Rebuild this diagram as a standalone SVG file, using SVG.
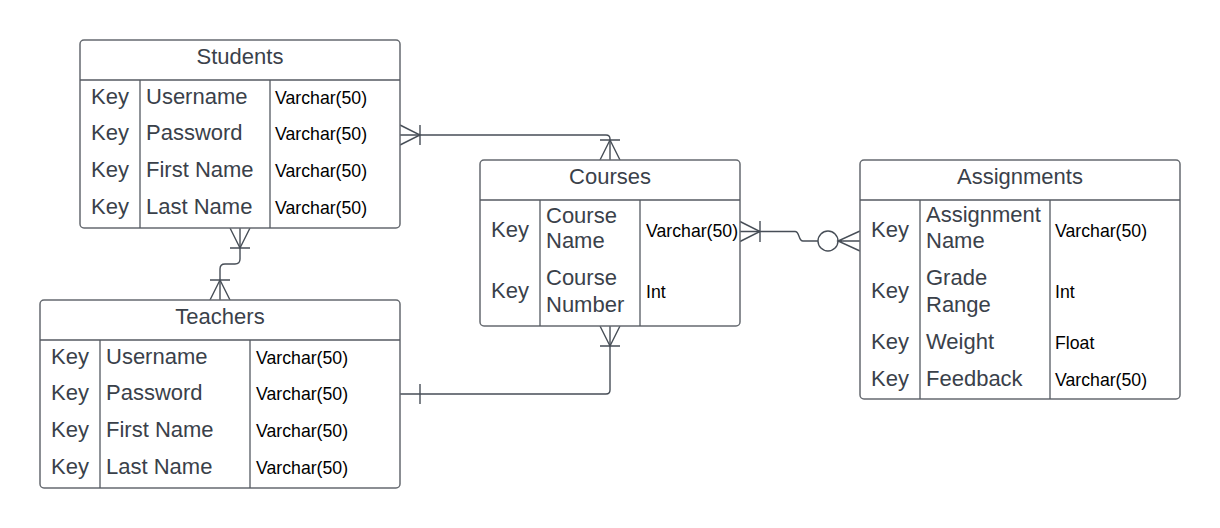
<svg xmlns="http://www.w3.org/2000/svg" width="1220" height="528" viewBox="0 0 1220 528">
<style>
.box{fill:#ffffff;stroke:#666a70;stroke-width:1.5}
.div{stroke:#555a62;stroke-width:1.3;fill:none}
.title{font-family:"Liberation Sans",Arial,sans-serif;font-size:22px;fill:#3a414a;text-anchor:middle}
.key{font-family:"Liberation Sans",Arial,sans-serif;font-size:22px;fill:#3a414a;text-anchor:middle}
.name{font-family:"Liberation Sans",Arial,sans-serif;font-size:22px;fill:#3a414a}
.type{font-family:"Liberation Sans",Arial,sans-serif;font-size:17.7px;fill:#000000}
.conn{stroke:#474e57;stroke-width:1.4;fill:none}
</style>
<rect width="1220" height="528" fill="#ffffff"/>

<g id="connectors">
  <!-- Students -> Courses -->
  <path class="conn" d="M400,135 H606 Q610,135 610,139 V160"/>
  <path class="conn" d="M400,125 L420,135 L400,145 M420,125 V145"/>
  <path class="conn" d="M600,160 L610,140 L620,160 M600,140 H620"/>
  <!-- Students -> Teachers -->
  <path class="conn" d="M240,228 V259 Q240,264 235,264 H225 Q220,264 220,269 V300"/>
  <path class="conn" d="M230,228 L240,248 L250,228 M230,248 H250"/>
  <path class="conn" d="M210,300 L220,280 L230,300 M210,280 H230"/>
  <!-- Teachers -> Courses -->
  <path class="conn" d="M400,394 H606 Q610,394 610,390 V326"/>
  <path class="conn" d="M420,384 V404"/>
  <path class="conn" d="M600,326 L610,346 L620,326 M600,346 H620"/>
  <!-- Courses -> Assignments -->
  <path class="conn" d="M740,231.5 H795 C800,231.5 798,241 803,241 H818"/>
  <path class="conn" d="M740,221.5 L760,231.5 L740,241.5 M760,221 V242"/>
  <circle class="conn" cx="828" cy="241" r="10"/>
  <path class="conn" d="M860,231 L838,241 L860,251 M838,241 H860"/>
</g>

<g id="students">
  <rect class="box" x="80" y="40" width="320" height="188" rx="4"/>
  <path class="div" d="M80,80 H400 M140,80 V228 M270,80 V228"/>
  <text class="title" x="240" y="64">Students</text>
  <text class="key" x="110" y="103.5">Key</text>
  <text class="key" x="110" y="140.2">Key</text>
  <text class="key" x="110" y="176.9">Key</text>
  <text class="key" x="110" y="213.6">Key</text>
  <text class="name" x="146" y="103.5">Username</text>
  <text class="name" x="146" y="140.2">Password</text>
  <text class="name" x="146" y="176.9">First Name</text>
  <text class="name" x="146" y="213.6">Last Name</text>
  <text class="type" x="275" y="103.5">Varchar(50)</text>
  <text class="type" x="275" y="140.2">Varchar(50)</text>
  <text class="type" x="275" y="176.9">Varchar(50)</text>
  <text class="type" x="275" y="213.6">Varchar(50)</text>
</g>

<g id="teachers">
  <rect class="box" x="40" y="300" width="360" height="188" rx="4"/>
  <path class="div" d="M40,340 H400 M100,340 V488 M250,340 V488"/>
  <text class="title" x="220" y="324">Teachers</text>
  <text class="key" x="70" y="363.5">Key</text>
  <text class="key" x="70" y="400.2">Key</text>
  <text class="key" x="70" y="436.9">Key</text>
  <text class="key" x="70" y="473.6">Key</text>
  <text class="name" x="106" y="363.5">Username</text>
  <text class="name" x="106" y="400.2">Password</text>
  <text class="name" x="106" y="436.9">First Name</text>
  <text class="name" x="106" y="473.6">Last Name</text>
  <text class="type" x="256" y="363.5">Varchar(50)</text>
  <text class="type" x="256" y="400.2">Varchar(50)</text>
  <text class="type" x="256" y="436.9">Varchar(50)</text>
  <text class="type" x="256" y="473.6">Varchar(50)</text>
</g>

<g id="courses">
  <rect class="box" x="480" y="160" width="260" height="166" rx="4"/>
  <path class="div" d="M480,200 H740 M540,200 V326 M640,200 V326"/>
  <text class="title" x="610" y="184">Courses</text>
  <text class="key" x="510" y="237.3">Key</text>
  <text class="key" x="510" y="298.3">Key</text>
  <text class="name" x="546" y="222.7">Course</text>
  <text class="name" x="546" y="248.3">Name</text>
  <text class="name" x="546" y="285">Course</text>
  <text class="name" x="546" y="311.7">Number</text>
  <text class="type" x="646" y="237.3">Varchar(50)</text>
  <text class="type" x="646" y="298.3">Int</text>
</g>

<g id="assignments">
  <rect class="box" x="860" y="160" width="320" height="239" rx="4"/>
  <path class="div" d="M860,200 H1180 M920,200 V399 M1050,200 V399"/>
  <text class="title" x="1020" y="184">Assignments</text>
  <text class="key" x="890" y="237.3">Key</text>
  <text class="key" x="890" y="298.3">Key</text>
  <text class="key" x="890" y="349.3">Key</text>
  <text class="key" x="890" y="386">Key</text>
  <text class="name" x="926" y="221.7">Assignment</text>
  <text class="name" x="926" y="248.3">Name</text>
  <text class="name" x="926" y="285">Grade</text>
  <text class="name" x="926" y="311.7">Range</text>
  <text class="name" x="926" y="349.3">Weight</text>
  <text class="name" x="926" y="386">Feedback</text>
  <text class="type" x="1055" y="237.3">Varchar(50)</text>
  <text class="type" x="1055" y="298.3">Int</text>
  <text class="type" x="1055" y="349.3">Float</text>
  <text class="type" x="1055" y="386">Varchar(50)</text>
</g>
</svg>
